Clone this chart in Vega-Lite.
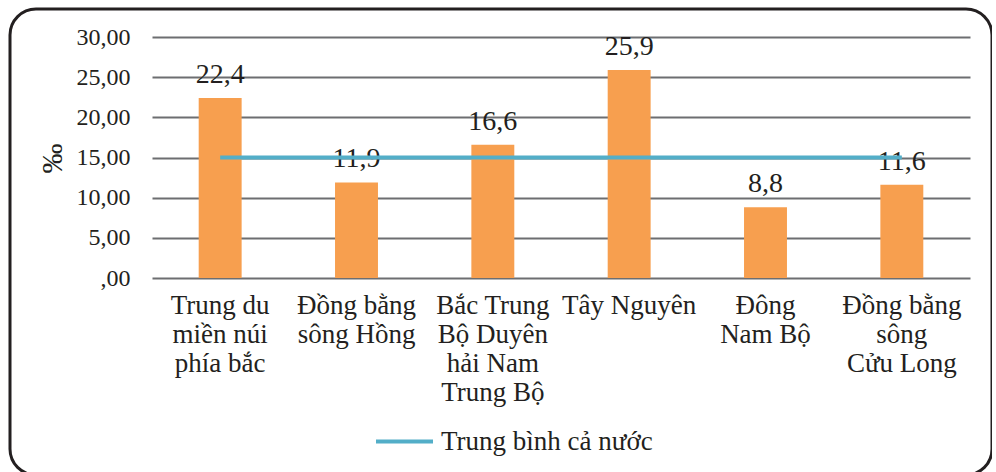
{
  "$schema": "https://vega.github.io/schema/vega-lite/v6.json",
  "autosize": "none",
  "padding": {"left": 10, "top": 9, "right": 0, "bottom": 0},
  "width": 982,
  "height": 466,
  "background": "white",
  "config": {
    "locale": {
      "number": {"decimal": ",", "thousands": ".", "grouping": [3], "currency": ["", " ₫"]}
    },
    "view": {"stroke": "#231f20", "strokeWidth": 3, "cornerRadius": 26, "fill": "white"},
    "font": "Liberation Serif"
  },
  "data": {
    "values": [
      {"region": "Trung du miền núi phía bắc", "value": 22.4, "avg": 15.0, "series": "Trung bình cả nước"},
      {"region": "Đồng bằng sông Hồng", "value": 11.9, "avg": 15.0, "series": "Trung bình cả nước"},
      {"region": "Bắc Trung Bộ Duyên hải Nam Trung Bộ", "value": 16.6, "avg": 15.0, "series": "Trung bình cả nước"},
      {"region": "Tây Nguyên", "value": 25.9, "avg": 15.0, "series": "Trung bình cả nước"},
      {"region": "Đông Nam Bộ", "value": 8.8, "avg": 15.0, "series": "Trung bình cả nước"},
      {"region": "Đồng bằng sông Cửu Long", "value": 11.6, "avg": 15.0, "series": "Trung bình cả nước"}
    ]
  },
  "encoding": {
    "x": {
      "field": "region",
      "type": "nominal",
      "sort": null,
      "scale": {"range": [142, 960], "paddingInner": 0.685, "paddingOuter": 0.3425},
      "axis": {
        "title": null,
        "orient": "bottom",
        "offset": -197,
        "domain": false,
        "ticks": false,
        "grid": false,
        "labelAngle": 0,
        "labelPadding": 14,
        "labelFont": "Liberation Serif",
        "labelFontSize": 27,
        "labelLineHeight": 29,
        "labelColor": "#231f20",
        "labelOverlap": false,
        "labelLimit": 300,
        "labelExpr": "({'Trung du miền núi phía bắc': ['Trung du', 'miền núi', 'phía bắc'], 'Đồng bằng sông Hồng': ['Đồng bằng', 'sông Hồng'], 'Bắc Trung Bộ Duyên hải Nam Trung Bộ': ['Bắc Trung', 'Bộ Duyên', 'hải Nam', 'Trung Bộ'], 'Tây Nguyên': ['Tây Nguyên'], 'Đông Nam Bộ': ['Đông', 'Nam Bộ'], 'Đồng bằng sông Cửu Long': ['Đồng bằng', 'sông', 'Cửu Long']})[datum.value]"
      }
    }
  },
  "layer": [
    {
      "mark": {"type": "bar", "color": "#F79F4F"},
      "encoding": {
        "y": {
          "field": "value",
          "type": "quantitative",
          "scale": {"domain": [0, 30], "range": [269, 28], "nice": false, "zero": true},
          "axis": {
            "title": "‰",
            "orient": "left",
            "offset": -130,
            "values": [0, 5, 10, 15, 20, 25, 30],
            "format": ".2f",
            "labelExpr": "datum.value === 0 ? ',00' : datum.label",
            "domain": false,
            "ticks": false,
            "grid": true,
            "gridColor": "#6d6e71",
            "gridWidth": 2,
            "gridOpacity": 1,
            "labelPadding": 10,
            "labelFont": "Liberation Serif",
            "labelFontSize": 24,
            "labelColor": "#231f20",
            "titleFont": "Liberation Serif",
            "titleFontSize": 30,
            "titleFontWeight": "normal",
            "titleColor": "#231f20",
            "titleAngle": -90,
            "titleAlign": "center",
            "titleBaseline": "middle",
            "titleX": -88,
            "titleY": 149
          }
        }
      }
    },
    {
      "mark": {"type": "text", "font": "Liberation Serif", "fontSize": 28, "color": "#231f20", "baseline": "alphabetic", "dy": -15},
      "encoding": {
        "y": {"field": "value", "type": "quantitative"},
        "text": {"field": "value", "type": "quantitative", "format": ".1f"}
      }
    },
    {
      "mark": {"type": "line", "strokeWidth": 4},
      "encoding": {
        "y": {"field": "avg", "type": "quantitative"},
        "color": {
          "field": "series",
          "type": "nominal",
          "scale": {"range": ["#53AEC8"]},
          "legend": {
            "title": null,
            "orient": "none",
            "legendX": 364,
            "legendY": 402,
            "symbolType": "stroke",
            "symbolSize": 3249,
            "symbolStrokeWidth": 4,
            "labelFont": "Liberation Serif",
            "labelFontSize": 27,
            "labelColor": "#231f20",
            "labelOffset": 6,
            "labelLimit": 400
          }
        }
      }
    }
  ]
}
